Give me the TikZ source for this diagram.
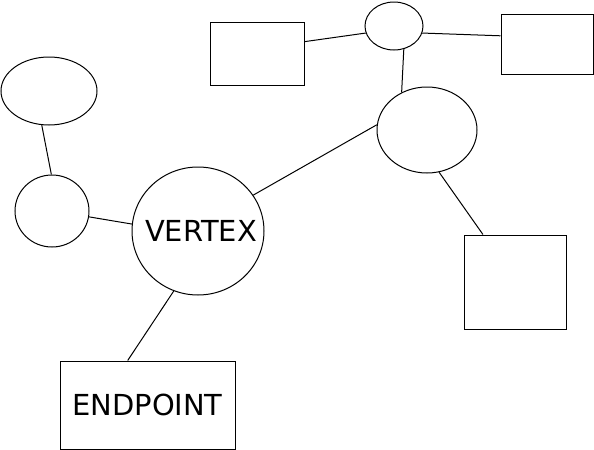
\documentclass[tikz,border=0pt]{standalone}
\usepackage{fontspec}
\setmainfont{DejaVu Sans}
\usetikzlibrary{shapes,shapes.geometric,positioning,calc}

\begin{document}
\begin{tikzpicture}[
    x=0.75pt, y=-0.75pt,
    every node/.style={font=\fontsize{21.7}{26}\selectfont},
    blob/.style={ellipse, draw, line width=0.75pt, inner sep=0pt},
    box/.style={rectangle, draw, line width=0.75pt, inner sep=0pt, align=center},
    link/.style={line width=0.75pt}
]
\useasboundingbox (0,0) rectangle (594,450);

% Left side
\node[blob, minimum width=72pt, minimum height=51pt] (topleft) at (49,91) {};
\node[blob, minimum width=55.5pt, minimum height=54pt] (small) at (52,211) {};
\node[blob, minimum width=99pt, minimum height=96pt, label={[xshift=2.25pt]center:VERTEX}] (vertex) at (198,231) {};
\node[box, minimum width=131.25pt, minimum height=66pt] (endpoint) at (147.5,405) {ENDPOINT};

% Top row
\node[box, minimum width=70.5pt, minimum height=47.25pt] (boxtop) at (257,53.5) {};
\node[blob, minimum width=43.5pt, minimum height=36pt] (knot) at (394,26) {};
\node[box, minimum width=69pt, minimum height=45pt] (boxright) at (547,44) {};

% Right side
\node[blob, minimum width=75pt, minimum height=64.5pt] (hub) at (427,130) {};
\node[box, minimum width=76.5pt, minimum height=70.5pt] (square) at (515,282) {};

% Links
\draw[link] (topleft.258) -- (small.91);
\draw[link] (small.351) -- (vertex.174);
\draw[link] (vertex.248) -- (endpoint.114);
\draw[link] (vertex.33) -- (hub.174);
\draw[link] (boxtop.14) -- (knot.194);
\draw[link] (knot.346) -- (boxright.170);
\draw[link] (knot.293) -- (hub.124);
\draw[link] (hub.286) -- (square.124);

\end{tikzpicture}
\end{document}
